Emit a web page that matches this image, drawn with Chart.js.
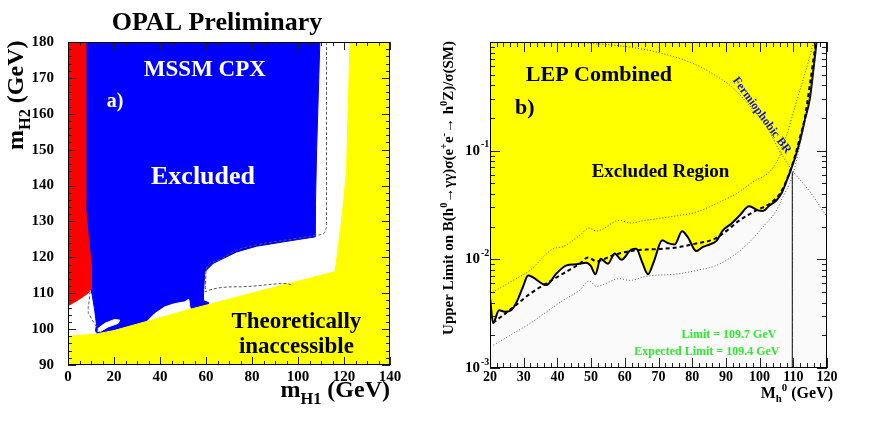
<!DOCTYPE html>
<html>
<head>
<meta charset="utf-8">
<script src="https://cdn.jsdelivr.net/npm/chart.js@4/dist/chart.umd.min.js"></script>
<style>
html, body { margin: 0; padding: 0; background: #fff; }
#wrap { position: relative; width: 872px; height: 423px; }
#c1 { position: absolute; left: 0; top: 0; }
#c2 { position: absolute; left: 430px; top: 0; }
</style>
</head>
<body>
<div id="wrap">
  <canvas id="c1" width="430" height="423"></canvas>
  <canvas id="c2" width="442" height="423"></canvas>
</div>
<script>
// ---- panel a) : OPAL MSSM CPX exclusion in (mH1, mH2) ----
var mH1Ticks = [0, 20, 40, 60, 80, 100, 120, 140];
var mH2Ticks = [90, 100, 110, 120, 130, 140, 150, 160, 170, 180];

var inaccessibleX = [0, 0, 12, 20, 33.4, 53, 68, 90, 116.1, 117.5, 119, 121.1, 122.6, 140, 140];
var inaccessibleY = [90, 98.0, 98.6, 99.6, 102.0, 105.5, 108.0, 111.7, 116.0, 122.9, 130.4, 144, 180, 180, 90];

var excludedX = [7.7, 109.5, 108.8, 108.1, 107.6, 107.4, 96.5, 82, 73.3, 63.1, 59.5, 59, 58.8, 61, 61, 12.8, 12.6, 11.9, 12.4, 11.6, 10.4, 10.2, 8.7, 7.7];
var excludedY = [180, 180, 165, 150, 135, 125.7, 124.6, 123.1, 121.5, 118.3, 116, 111, 108, 107.4, 104, 97, 99, 99.5, 101.1, 105.3, 110, 117.4, 126.7, 134];

var theoryX = [0, 7.7, 7.7, 8.7, 10.2, 10.2, 8.7, 4.35, 0];
var theoryY = [180, 180, 134, 126.7, 117.4, 111.3, 110, 108.1, 106.5];

var hole1X = [13.1, 13.1, 16, 20.3, 22.5, 21.8, 17.4, 14];
var hole1Y = [99.2, 100.2, 101.6, 102.7, 102.5, 101.6, 100.6, 99.3];
var hole2X = [33.4, 37.7, 42.1, 46.4, 50.8, 52.5, 53, 53, 33.4];
var hole2Y = [101.5, 104.3, 106.2, 107.1, 107.6, 108.3, 106.0, 104.5, 100.5];

var expAX = [9.6, 8.8, 8.8, 10.2, 12.4];
var expAY = [110.5, 106.5, 104.3, 102.9, 100.6];
var expBX = [112.4, 112.4, 111.5, 109.5, 107.4, 96.5, 82, 73.3, 63.5, 60.1, 59.6, 74.7, 95, 97.5];
var expBY = [180, 128.2, 126.8, 126.3, 126.1, 125.0, 123.5, 122, 118.8, 116.6, 110.4, 111.8, 112.7, 112.2];

// ---- panel b) : LEP combined fermiophobic limit ----
var massTicks = [20, 30, 40, 50, 60, 70, 80, 90, 100, 110, 120];
var limitTicks = [0.001, 0.01, 0.1];
var limitTickExp = ['-3', '-2', '-1'];

var obsMass = [20, 20.9, 22.7, 24.4, 26.3, 28, 29.8, 31.3, 36.7, 39.7, 42.7, 45.6, 48.6, 49.9, 51.3, 52.8, 55, 57, 59, 61.9, 63.4, 65.1, 66.9, 68.6, 71.1, 72.8, 74.8, 77, 78.8, 81.2, 83.2, 85.2, 87.2, 89.1, 91.6, 94.1, 96.9, 99.5, 101, 103, 105, 106.7, 107.9, 109.4, 110.6, 111.9, 113.4, 114.9, 115.8, 116.9];
var obsLimit = [0.0045, 0.0026, 0.0034, 0.0033, 0.0034, 0.0041, 0.0056, 0.0071, 0.0058, 0.0074, 0.0088, 0.0090, 0.0093, 0.0087, 0.0073, 0.0101, 0.0091, 0.0113, 0.0099, 0.0123, 0.0125, 0.0095, 0.0073, 0.0095, 0.0150, 0.0141, 0.0137, 0.0181, 0.0158, 0.0119, 0.0130, 0.0137, 0.0148, 0.0185, 0.0213, 0.0254, 0.0308, 0.0282, 0.0279, 0.0314, 0.0349, 0.0417, 0.0515, 0.0683, 0.0874, 0.120, 0.190, 0.30, 0.50, 1.0];

var expMass = [20.9, 26.8, 31.8, 36.7, 41.7, 46.6, 49.1, 51.6, 56.5, 61.4, 66.4, 71.3, 76.3, 81.2, 86.2, 89.1, 94.1, 99, 103, 106, 108.4, 110.4, 111.9, 113.4, 114.9, 116.4, 116.8];
var expLimit = [0.0026, 0.0036, 0.0048, 0.0060, 0.0074, 0.0091, 0.0104, 0.0096, 0.0109, 0.0119, 0.0123, 0.0125, 0.0130, 0.0140, 0.0152, 0.0172, 0.0229, 0.0282, 0.0325, 0.0402, 0.0573, 0.0874, 0.130, 0.20, 0.40, 0.85, 1.0];

var upMass = [20, 26.8, 31.8, 38.7, 41.7, 46.6, 49.4, 51.6, 58.5, 61.4, 66.4, 76.3, 81.2, 88.2, 93.1, 98, 103, 104.4, 106, 108, 110.9, 113.9, 115.8, 116.3];
var upLimit = [0.0048, 0.0064, 0.0079, 0.0125, 0.0131, 0.0166, 0.0194, 0.0182, 0.0229, 0.0216, 0.0229, 0.0254, 0.0272, 0.0337, 0.0402, 0.0515, 0.0640, 0.073, 0.090, 0.138, 0.28, 0.57, 0.93, 1.0];

var loMass = [21, 26.8, 31.8, 36.7, 41.7, 46.6, 49.4, 51.6, 58.5, 61.4, 66.4, 76.3, 81.2, 87.2, 93.1, 97.1, 101, 105, 106.9, 108.9, 110, 111.9, 113.9, 115.8, 117];
var loLimit = [0.00162, 0.00207, 0.00256, 0.00327, 0.0042, 0.00519, 0.00632, 0.00565, 0.00664, 0.0064, 0.00698, 0.00738, 0.0079, 0.0088, 0.0113, 0.0145, 0.0199, 0.0282, 0.0374, 0.050, 0.062, 0.11, 0.22, 0.48, 1.0];

var fermMass = [40, 50, 60, 70, 80.5, 86.5, 92, 97, 102, 105.5, 108.4, 110, 114.9, 120];
var fermBR = [1.0, 0.97, 0.91, 0.80, 0.63, 0.50, 0.38, 0.26, 0.17, 0.105, 0.075, 0.064, 0.042, 0.0245];

var limitMass = 109.7;
var limitTop = 0.064;

var SERIF = "'Liberation Serif', 'Times New Roman', serif";

function pts(xs, ys) {
    return xs.map(function (x, i) { return { x: x, y: ys[i] }; });
}

function polygon(xs, ys, color, order) {
    return {
        data: pts(xs, ys), fill: 'shape', backgroundColor: color,
        borderColor: color, borderWidth: 1, pointRadius: 0, tension: 0, order: order
    };
}

function curve(xs, ys, color, width, dash, order) {
    return {
        data: pts(xs, ys), fill: false, borderColor: color, borderWidth: width,
        borderDash: dash, pointRadius: 0, cubicInterpolationMode: 'monotone', order: order
    };
}

// text with sub/superscripts: parts = [[text, 0 | 1 (sup) | -1 (sub)], ...]
function drawRich(ctx, parts, x, y, size, align, angle, color) {
    ctx.save();
    ctx.translate(x, y);
    if (angle) ctx.rotate(angle);
    ctx.fillStyle = color || '#000';
    ctx.textAlign = 'left';
    function spec(p) {
        var sz = p[1] ? size * 0.68 : size;
        var dy = p[1] === 1 ? -size * 0.42 : (p[1] === -1 ? size * 0.28 : 0);
        return { font: 'bold ' + sz + 'px ' + SERIF, dy: dy };
    }
    var total = 0;
    parts.forEach(function (p) { ctx.font = spec(p).font; total += ctx.measureText(p[0]).width; });
    var cx = align === 'center' ? -total / 2 : (align === 'right' ? -total : 0);
    parts.forEach(function (p) {
        var s = spec(p);
        ctx.font = s.font;
        ctx.fillText(p[0], cx, s.dy);
        cx += ctx.measureText(p[0]).width;
    });
    ctx.restore();
}

function label(chart, text, xv, yv, size, color, align, angle) {
    var ctx = chart.ctx;
    var px = chart.scales.x.getPixelForValue(xv);
    var py = chart.scales.y.getPixelForValue(yv);
    ctx.save();
    ctx.textBaseline = 'middle';
    drawRich(ctx, [[text, 0]], px, py, size, align || 'center', angle || 0, color);
    ctx.restore();
}

// inward tick marks on all four sides + frame
function frameAndTicks(chart, xMajor, xMinor, yMajor, yMinor, majLen, minLen) {
    var ctx = chart.ctx, a = chart.chartArea;
    var xs = chart.scales.x, ys = chart.scales.y;
    ctx.save();
    ctx.strokeStyle = '#222';
    ctx.lineWidth = 1;
    ctx.beginPath();
    function xt(v, len) {
        var p = Math.round(xs.getPixelForValue(v)) + 0.5;
        ctx.moveTo(p, a.bottom); ctx.lineTo(p, a.bottom - len);
        ctx.moveTo(p, a.top); ctx.lineTo(p, a.top + len);
    }
    function yt(v, len) {
        var p = Math.round(ys.getPixelForValue(v)) + 0.5;
        ctx.moveTo(a.left, p); ctx.lineTo(a.left + len, p);
        ctx.moveTo(a.right, p); ctx.lineTo(a.right - len, p);
    }
    xMajor.forEach(function (v) { xt(v, majLen); });
    xMinor.forEach(function (v) { xt(v, minLen); });
    yMajor.forEach(function (v) { yt(v, majLen); });
    yMinor.forEach(function (v) { yt(v, minLen); });
    ctx.stroke();
    ctx.strokeStyle = '#000';
    ctx.strokeRect(a.left + 0.5, a.top + 0.5, a.right - a.left - 1, a.bottom - a.top - 1);
    ctx.restore();
}

function range(from, to, step, skip) {
    var out = [];
    for (var v = from; v <= to + 1e-9; v += step) {
        if (!skip || skip.indexOf(v) < 0) out.push(v);
    }
    return out;
}

var tickFont15 = { family: SERIF, weight: 'bold', size: 15 };
var tickFont14 = { family: SERIF, weight: 'bold', size: 14 };
var noGrid = { display: false, drawTicks: false };

// ---------------- chart a) ----------------
new Chart(document.getElementById('c1'), {
    type: 'line',
    data: {
        datasets: [
            polygon(excludedX, excludedY, '#0000ff', 5),
            polygon(hole1X, hole1Y, '#ffffff', 4),
            polygon(hole2X, hole2Y, '#ffffff', 4),
            polygon(inaccessibleX, inaccessibleY, '#ffff00', 3),
            polygon(theoryX, theoryY, '#ff0000', 2),
            curve(expAX, expAY, '#555', 1, [3, 2], 1),
            curve(expBX, expBY, '#555', 1, [3, 2], 1)
        ]
    },
    options: {
        responsive: false,
        animation: false,
        layout: { padding: { left: 0, top: 42, right: 40, bottom: 0 } },
        plugins: { legend: { display: false }, tooltip: { enabled: false } },
        scales: {
            x: {
                type: 'linear', min: 0, max: 140,
                afterBuildTicks: function (s) { s.ticks = mH1Ticks.map(function (v) { return { value: v }; }); },
                afterFit: function (s) { s.height = 58; },
                grid: noGrid, border: { display: false },
                ticks: { font: tickFont15, color: '#000', padding: 3, maxRotation: 0, autoSkip: false }
            },
            y: {
                type: 'linear', min: 90, max: 180,
                afterBuildTicks: function (s) { s.ticks = mH2Ticks.map(function (v) { return { value: v }; }); },
                afterFit: function (s) { s.width = 68; },
                grid: noGrid, border: { display: false },
                ticks: { font: tickFont15, color: '#000', padding: 14, autoSkip: false }
            }
        }
    },
    plugins: [{
        id: 'panelA',
        afterDraw: function (chart) {
            var ctx = chart.ctx;
            frameAndTicks(chart, mH1Ticks, range(0, 140, 5, mH1Ticks), mH2Ticks, range(90, 180, 2, mH2Ticks), 8, 4);
            label(chart, 'MSSM CPX', 59.5, 172.3, 23, '#fff');
            label(chart, 'a)', 16.8, 163.3, 20, '#fff', 'left');
            label(chart, 'Excluded', 58.7, 142.4, 26, '#fff');
            label(chart, 'Theoretically', 99.3, 101.9, 23, '#000');
            label(chart, 'inaccessible', 99.3, 94.9, 23, '#000');
            ctx.save();
            ctx.textBaseline = 'middle';
            drawRich(ctx, [['OPAL Preliminary', 0]], 217, 23, 26, 'center', 0, '#000');
            ctx.textBaseline = 'alphabetic';
            drawRich(ctx, [['m', 0], ['H1', -1], [' (GeV)', 0]], 390, 397, 24, 'right', 0, '#000');
            drawRich(ctx, [['m', 0], ['H2', -1], [' (GeV)', 0]], 23, 150, 24, 'left', -Math.PI / 2, '#000');
            ctx.restore();
        }
    }]
});

// ---------------- chart b) ----------------
var logMinor = [];
limitTicks.forEach(function (d) { for (var m = 2; m <= 9; m++) logMinor.push(m * d); });

new Chart(document.getElementById('c2'), {
    type: 'line',
    data: {
        datasets: [
            {
                data: pts(obsMass, obsLimit), fill: 'end', backgroundColor: '#ffff00',
                borderColor: '#000', borderWidth: 2, pointRadius: 0,
                cubicInterpolationMode: 'monotone', order: 9
            },
            curve(expMass, expLimit, '#000', 2, [4, 3], 2),
            curve(upMass, upLimit, '#444', 1, [1, 2], 3),
            curve(loMass, loLimit, '#555', 1, [1, 2], 3),
            curve(fermMass, fermBR, '#444', 1, [1, 2], 3),
            curve([limitMass, limitMass], [0.001, limitTop], '#000', 1, [], 1)
        ]
    },
    options: {
        responsive: false,
        animation: false,
        layout: { padding: { left: 0, top: 42, right: 45, bottom: 0 } },
        plugins: { legend: { display: false }, tooltip: { enabled: false } },
        scales: {
            x: {
                type: 'linear', min: 20, max: 120,
                afterBuildTicks: function (s) { s.ticks = massTicks.map(function (v) { return { value: v }; }); },
                afterFit: function (s) { s.height = 55; },
                grid: noGrid, border: { display: false },
                ticks: { font: tickFont14, color: '#000', padding: 1, maxRotation: 0, autoSkip: false }
            },
            y: {
                type: 'logarithmic', min: 0.001, max: 1,
                afterBuildTicks: function (s) { s.ticks = limitTicks.map(function (v) { return { value: v }; }); },
                afterFit: function (s) { s.width = 60; },
                grid: noGrid, border: { display: false },
                ticks: { display: false }
            }
        }
    },
    plugins: [{
        id: 'panelB',
        beforeDatasetsDraw: function (chart) {
            var a = chart.chartArea, ctx = chart.ctx;
            ctx.save();
            ctx.fillStyle = '#fafafa';
            ctx.fillRect(a.left, a.top, a.right - a.left, a.bottom - a.top);
            ctx.restore();
        },
        afterDraw: function (chart) {
            var ctx = chart.ctx, a = chart.chartArea;
            frameAndTicks(chart, massTicks, range(20, 120, 2, massTicks), limitTicks, logMinor, 10, 5);
            ctx.save();
            ctx.textBaseline = 'middle';
            limitTicks.forEach(function (v, i) {
                var py = chart.scales.y.getPixelForValue(v);
                drawRich(ctx, [['10', 0]], a.left - 10, py, 15, 'right', 0, '#000');
                drawRich(ctx, [[limitTickExp[i], 0]], a.left - 9, py - 6, 10, 'left', 0, '#000');
            });
            ctx.restore();
            label(chart, 'LEP Combined', 52.3, 0.49, 22, '#000');
            label(chart, 'b)', 30.3, 0.245, 22, '#000');
            label(chart, 'Excluded Region', 70.6, 0.063, 19, '#000');
            label(chart, 'Fermiophobic BR', 100.6, 0.211, 12, '#1010d0', 'center', 54 * Math.PI / 180);
            label(chart, 'Limit = 109.7 GeV', 105.0, 0.002, 12, '#2ee82e', 'right');
            label(chart, 'Expected Limit = 109.4 GeV', 105.9, 0.0014, 12, '#2ee82e', 'right');
            ctx.save();
            ctx.textBaseline = 'alphabetic';
            drawRich(ctx, [['M', 0], ['h', -1], ['0', 1], [' (GeV)', 0]], 403, 398, 16, 'right', 0, '#000');
            drawRich(ctx, [['Upper Limit on B(h', 0], ['0', 1], ['\u2192\u03b3\u03b3)\u03c3(e', 0], ['+', 1], ['e', 0], ['-', 1],
                ['\u2192 h', 0], ['0', 1], ['Z)/\u03c3(SM)', 0]], 23, 188, 15, 'center', -Math.PI / 2, '#000');
            ctx.restore();
        }
    }]
});
</script>
</body>
</html>
